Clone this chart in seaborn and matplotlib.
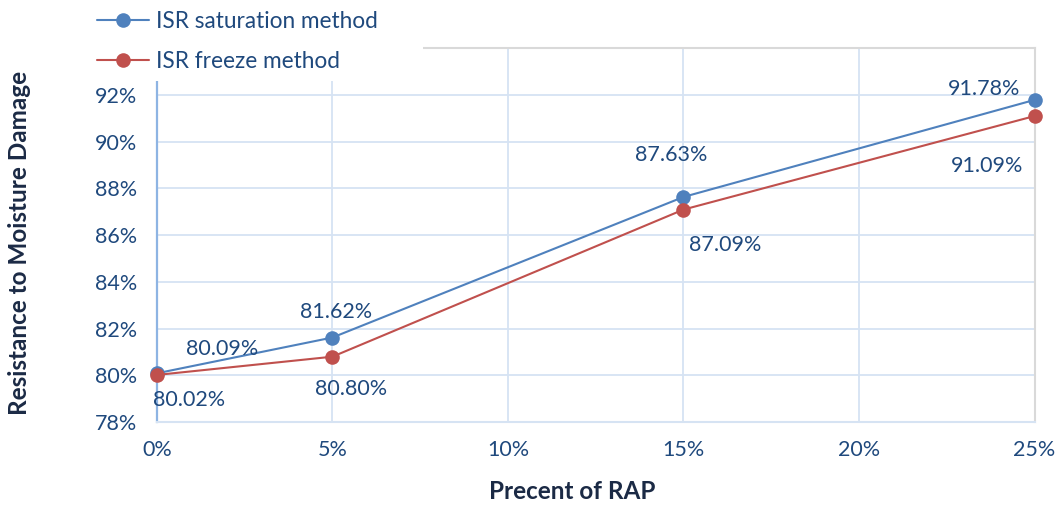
import matplotlib
matplotlib.use("Agg")
import matplotlib.pyplot as plt
from matplotlib.patches import Rectangle
from matplotlib.ticker import FuncFormatter, MultipleLocator
import pandas as pd
import seaborn as sns

# Data: moisture damage resistance (ISR, %) versus RAP content (%)
rap_percent = [0, 5, 15, 25]
isr_saturation = [80.09, 81.62, 87.63, 91.78]
isr_freeze = [80.02, 80.80, 87.09, 91.09]
series_names = ["ISR saturation method", "ISR freeze method"]

df = pd.DataFrame({
    "rap": rap_percent * 2,
    "isr": isr_saturation + isr_freeze,
    "method": [series_names[0]] * len(rap_percent) + [series_names[1]] * len(rap_percent),
})

sns.set_theme(style="white")
plt.rcParams["font.family"] = ["Lato", "DejaVu Sans"]

TEXT = "#1f497d"
LABEL = "#1b2a45"
GRID = "#d6e3f3"
FS = 15.5
palette = {series_names[0]: "#4f81bd", series_names[1]: "#c0504d"}

fig = plt.figure(figsize=(10.6, 5.05), dpi=100)
ax = fig.add_axes([0.148, 0.164, 0.828, 0.741])

sns.lineplot(data=df, x="rap", y="isr", hue="method", palette=palette,
             marker="o", markersize=10.5, markeredgewidth=0, linewidth=1.5,
             ax=ax, legend=False, zorder=3, clip_on=False)

ax.set_xlim(0, 25)
ax.set_ylim(78, 94)
ax.xaxis.set_major_locator(MultipleLocator(5))
ax.yaxis.set_major_locator(MultipleLocator(2))
ax.xaxis.set_major_formatter(FuncFormatter(lambda v, p: f"{v:.0f}%"))
ax.yaxis.set_major_formatter(FuncFormatter(lambda v, p: "" if v > 93 else f"{v:.0f}%"))
ax.tick_params(axis="both", colors=TEXT, labelsize=FS, length=0)
ax.tick_params(axis="x", pad=13)
ax.tick_params(axis="y", pad=14)

ax.grid(True, color=GRID, linewidth=1.3)
ax.set_axisbelow(True)
ax.spines["left"].set_color("#8eb4e3")
ax.spines["left"].set_linewidth(1.6)
ax.spines["bottom"].set_color(GRID)
ax.spines["bottom"].set_linewidth(1.5)
for side in ("top", "right"):
    ax.spines[side].set_color("#d9d9d9")
    ax.spines[side].set_linewidth(1.5)

ax.set_xlabel("Precent of RAP", fontsize=17.5, fontweight="bold", color=LABEL)
ax.set_ylabel("Resistance to Moisture Damage", fontsize=17.5, fontweight="bold", color=LABEL)
ax.xaxis.set_label_coords(0.473, -0.155)
ax.yaxis.set_label_coords(-0.143, 0.478)

# Value labels, offsets in pixels from each marker
sat_offsets = [(65, 24), (4, 26), (-12, 42), (-50, 11)]
frz_offsets = [(32, -25), (19, -32), (42, -35), (-47, -50)]
for x, y, off in zip(rap_percent, isr_saturation, sat_offsets):
    ax.annotate(f"{y:.2f}%", (x, y), xytext=off, textcoords="offset pixels",
                ha="center", va="center", color=TEXT, fontsize=FS, zorder=4)
for x, y, off in zip(rap_percent, isr_freeze, frz_offsets):
    ax.annotate(f"{y:.2f}%", (x, y), xytext=off, textcoords="offset pixels",
                ha="center", va="center", color=TEXT, fontsize=FS, zorder=4)

# White block behind the legend, masking the top-left of the plot frame
fig.patches.append(Rectangle((0.06, 0.8396), 0.339, 0.1604, transform=fig.transFigure,
                             facecolor="white", edgecolor="none", zorder=5))

handles = [
    plt.Line2D([], [], color=palette[n], marker="o", markersize=10.5,
               markeredgewidth=0, linewidth=1.5)
    for n in series_names
]
leg = fig.legend(handles, series_names, loc="upper left",
                 bbox_to_anchor=(0.0915, 0.979), frameon=False, fontsize=16.3,
                 labelcolor=TEXT, handlelength=2.3, handletextpad=0.32,
                 labelspacing=0.85, borderpad=0.0, borderaxespad=0.0)
leg.set_zorder(10)

fig.savefig("out.png", dpi=100, facecolor="white")
